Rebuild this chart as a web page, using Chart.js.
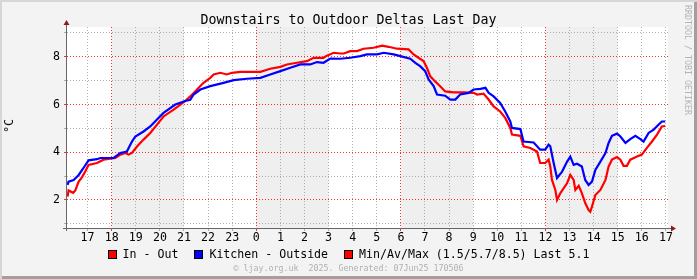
<!DOCTYPE html>
<html>
<head>
<meta charset="utf-8">
<script src="https://cdn.jsdelivr.net/npm/chart.js@4.4.1/dist/chart.umd.min.js"></script>
<style>
  body { margin: 0; }
  #wrap {
    position: relative; width: 697px; height: 279px; background: #f3f3f3;
    box-shadow: inset 2px 2px 0 #d6d6d6, inset -3px -3px 0 #a0a0a0;
    font-family: "DejaVu Sans Mono", monospace;
  }
  #chart { position: absolute; left: 0; top: 0; }
  .txt { position: absolute; white-space: pre; }
  #title { top: 12px; left: 0; width: 697px; text-align: center; font-size: 13.3px; line-height: 16px; color: #000; }
  #ytitle { left: 3px; top: 119px; writing-mode: vertical-rl; transform: rotate(180deg); font-size: 11.6px; line-height: 13px; }
  #mark { left: 683px; top: 5px; writing-mode: vertical-rl; font-size: 8.3px; line-height: 9px; color: #b4b4b4; }
  #legend { top: 248px; left: 0; width: 697px; display: flex; justify-content: center; gap: 16px; font-size: 11.6px; line-height: 13px; }
  #legend .item { display: flex; align-items: center; height: 13px; }
  #legend .box { width: 7px; height: 7px; border: 1px solid #000; margin-right: 6px; }
  #footer { top: 263px; left: 0; width: 697px; text-align: center; font-size: 8.3px; line-height: 10px; color: #b0b0b0; }
</style>
</head>
<body>
<div id="wrap">
  <canvas id="chart" width="697" height="279"></canvas>
  <div class="txt" id="title">Downstairs to Outdoor Deltas Last Day</div>
  <div class="txt" id="ytitle">°C</div>
  <div class="txt" id="mark">RRDTOOL / TOBI OETIKER</div>
  <div class="txt" id="legend"></div>
  <div class="txt" id="footer">© ljay.org.uk  2025. Generated: 07Jun25 170506</div>
</div>
<script>
// hours counted from midnight of the first day (24 = 0:00 next day)
const inOutHours = [16.17,16.21,16.40,16.49,16.63,16.77,16.90,17.04,17.39,17.66,18.15,18.36,18.56,18.70,18.84,19.05,19.32,19.60,19.88,20.15,20.57,20.85,21.05,21.26,21.54,21.81,22.09,22.23,22.51,22.78,22.99,23.34,23.75,24.17,24.58,25.00,25.27,25.69,26.10,26.38,26.79,26.93,27.21,27.49,27.63,27.90,28.18,28.45,28.87,29.22,29.49,29.84,30.32,30.53,30.73,30.94,31.08,31.22,31.42,31.63,31.84,32.19,32.60,33.02,33.16,33.43,33.64,33.85,34.12,34.33,34.54,34.61,34.96,35.09,35.37,35.65,35.78,35.99,36.13,36.20,36.27,36.41,36.48,36.62,36.90,37.03,37.17,37.24,37.38,37.51,37.65,37.79,37.86,37.93,38.07,38.28,38.49,38.62,38.76,38.97,39.11,39.24,39.38,39.52,39.80,40.00,40.21,40.42,40.63,40.83,40.97];
const inOutValues = [2.14,2.40,2.30,2.40,2.77,2.96,3.19,3.47,3.55,3.69,3.76,3.90,3.97,3.90,3.97,4.24,4.53,4.81,5.16,5.50,5.79,6.00,6.15,6.34,6.63,6.91,7.12,7.26,7.33,7.26,7.33,7.37,7.37,7.37,7.50,7.58,7.68,7.75,7.82,7.96,7.96,8.05,8.17,8.14,8.14,8.24,8.24,8.34,8.38,8.47,8.42,8.34,8.31,8.10,7.96,7.82,7.54,7.18,6.97,6.77,6.55,6.51,6.51,6.49,6.42,6.46,6.21,5.92,5.71,5.44,5.02,4.74,4.69,4.25,4.18,4.03,3.55,3.55,3.69,3.40,2.84,2.42,2.00,2.29,2.71,3.05,2.84,2.42,2.59,2.29,1.87,1.58,1.51,1.72,2.21,2.42,2.84,3.40,3.69,3.80,3.69,3.43,3.43,3.69,3.82,3.90,4.18,4.45,4.74,5.08,5.10];

const kitchenHours = [16.17,16.21,16.42,16.63,16.83,17.04,17.39,17.53,18.08,18.36,18.63,18.84,18.98,19.32,19.60,19.88,20.15,20.64,21.05,21.26,21.40,21.68,22.09,22.64,23.06,23.61,24.17,24.58,25.00,25.41,25.83,26.24,26.52,26.79,27.07,27.49,27.90,28.32,28.59,29.01,29.29,29.70,29.98,30.39,30.60,30.81,31.01,31.15,31.36,31.50,31.84,32.05,32.26,32.46,32.81,33.02,33.30,33.51,33.64,33.85,34.12,34.33,34.54,34.61,34.96,35.09,35.51,35.78,35.99,36.13,36.20,36.34,36.48,36.69,36.90,37.03,37.17,37.31,37.51,37.65,37.79,37.93,38.07,38.28,38.49,38.62,38.76,38.97,39.11,39.32,39.52,39.73,39.94,40.07,40.28,40.49,40.70,40.83,40.97];
const kitchenValues = [2.63,2.77,2.84,3.05,3.34,3.66,3.71,3.76,3.76,3.97,4.03,4.45,4.66,4.87,5.08,5.37,5.65,6.00,6.15,6.20,6.42,6.63,6.77,6.91,7.02,7.08,7.12,7.26,7.40,7.54,7.68,7.68,7.78,7.75,7.93,7.92,7.96,8.03,8.10,8.10,8.17,8.10,8.03,7.92,7.75,7.60,7.40,7.05,6.77,6.42,6.37,6.21,6.21,6.42,6.49,6.63,6.66,6.70,6.49,6.34,6.07,5.71,5.29,5.02,4.97,4.45,4.41,4.11,4.11,4.32,4.25,3.55,2.92,3.19,3.61,3.82,3.47,3.52,3.40,2.84,2.63,2.77,3.26,3.61,3.97,4.39,4.69,4.78,4.66,4.39,4.55,4.69,4.55,4.45,4.81,4.95,5.16,5.29,5.29];

const hourTicks = [17,18,19,20,21,22,23,24,25,26,27,28,29,30,31,32,33,34,35,36,37,38,39,40,41];
const hourLabels = ["17","18","19","20","21","22","23","0","1","2","3","4","5","6","7","8","9","10","11","12","13","14","15","16","17"];
const yTicks = [1,2,3,4,5,6,7,8,9];
const yLabels = ["","2","","4","","6","","8",""];
const shadeBands = [[18,21],[24,27],[30,33],[36,39]];

const legendItems = [
  { label: "In - Out", color: "#ff0000" },
  { label: "Kitchen - Outside", color: "#0000ff" },
  { label: "Min/Av/Max (1.5/5.7/8.5) Last 5.1", color: "#ff0000" }
];

const font = { family: "DejaVu Sans Mono", size: 11.6 };
const gray = "rgba(150,150,150,0.75)";
const red = "rgba(235,0,0,0.8)";

// legend in html
const legend = document.getElementById("legend");
legendItems.forEach(function (it) {
  const item = document.createElement("span");
  item.className = "item";
  item.innerHTML = '<span class="box" style="background:' + it.color + '"></span>' + it.label;
  legend.appendChild(item);
});

function toPoints(hours, values) {
  return hours.map((h, i) => ({ x: h, y: values[i] }));
}

// background of the plot + shaded bands, and the axes with arrows
const rrdLook = {
  id: "rrdLook",
  beforeDraw(chart) {
    const { ctx, chartArea: a, scales: { x } } = chart;
    ctx.save();
    ctx.fillStyle = "#ffffff";
    ctx.fillRect(a.left, a.top, a.right - a.left, a.bottom - a.top);
    ctx.fillStyle = "#efefef";
    shadeBands.forEach(function (b) {
      const x1 = x.getPixelForValue(b[0]);
      const x2 = x.getPixelForValue(b[1]);
      ctx.fillRect(x1, a.top, x2 - x1, a.bottom - a.top);
    });
    ctx.restore();
  },
  afterDraw(chart) {
    const { ctx, chartArea: a } = chart;
    ctx.save();
    ctx.strokeStyle = "#666666";
    ctx.lineWidth = 1;
    ctx.beginPath();
    ctx.moveTo(a.left - 0.5, a.top - 3);
    ctx.lineTo(a.left - 0.5, a.bottom + 3);
    ctx.moveTo(a.left - 4, a.bottom + 0.5);
    ctx.lineTo(a.right + 3, a.bottom + 0.5);
    ctx.stroke();
    ctx.fillStyle = "#8c1c1c";
    ctx.beginPath();
    ctx.moveTo(a.left - 0.5, a.top - 7);
    ctx.lineTo(a.left - 3.5, a.top - 2);
    ctx.lineTo(a.left + 2.5, a.top - 2);
    ctx.fill();
    ctx.beginPath();
    ctx.moveTo(a.right + 8, a.bottom + 0.5);
    ctx.lineTo(a.right + 3, a.bottom - 2.5);
    ctx.lineTo(a.right + 3, a.bottom + 3.5);
    ctx.fill();
    ctx.restore();
  }
};

new Chart(document.getElementById("chart"), {
  type: "line",
  data: {
    datasets: [
      {
        label: "Kitchen - Outside",
        data: toPoints(kitchenHours, kitchenValues),
        borderColor: "#0000ff",
        borderWidth: 2.2,
        pointRadius: 0,
        order: 0
      },
      {
        label: "In - Out",
        data: toPoints(inOutHours, inOutValues),
        borderColor: "#ff0000",
        borderWidth: 2.2,
        pointRadius: 0,
        order: 1
      }
    ]
  },
  options: {
    responsive: false,
    animation: false,
    layout: { padding: { top: 27, right: 29, bottom: 31, left: 0 } },
    plugins: { legend: { display: false }, tooltip: { enabled: false } },
    scales: {
      x: {
        type: "linear",
        min: 16.145,
        max: 41.085,
        afterBuildTicks: (s) => { s.ticks = hourTicks.map((v) => ({ value: v })); },
        afterFit: (s) => { s.height = 20; },
        ticks: { callback: (v, i) => hourLabels[i], autoSkip: false, maxRotation: 0, font: font, color: "#000", padding: 0 },
        grid: { color: (c) => (c.tick && c.tick.value % 6 === 0 ? red : gray), tickLength: 3 },
        border: { display: false, dash: [1, 2] }
      },
      y: {
        min: 0.825,
        max: 9.25,
        afterBuildTicks: (s) => { s.ticks = yTicks.map((v) => ({ value: v })); },
        afterFit: (s) => { s.width = 67; },
        ticks: { callback: (v, i) => yLabels[i], autoSkip: false, font: font, color: "#000", padding: 4 },
        grid: { color: (c) => (c.tick && c.tick.value % 2 === 0 ? red : gray), tickLength: 3 },
        border: { display: false, dash: [1, 2] }
      }
    }
  },
  plugins: [rrdLook]
});
</script>
</body>
</html>
